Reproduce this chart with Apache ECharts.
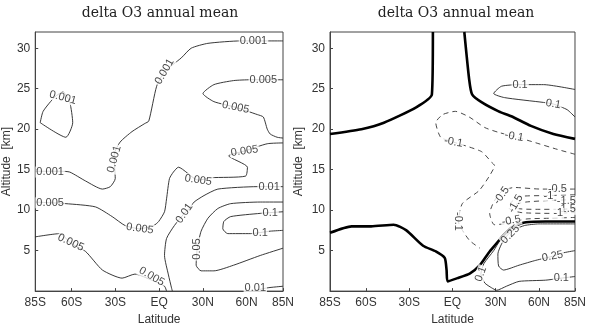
<!DOCTYPE html>
<html>
<head>
<meta charset="utf-8">
<script src="https://cdn.jsdelivr.net/npm/echarts@6/dist/echarts.min.js"></script>
<style>
  html, body { margin: 0; padding: 0; background: #fff; }
  #main { width: 589px; height: 331px; }
</style>
</head>
<body>
<div id="main"></div>
<script>
// ticks
const latTicks = [-85, -60, -30, 0, 30, 60, 85];
const latTickText = ['85S', '60S', '30S', 'EQ', '30N', '60N', '85N'];
const altTicks = [5, 10, 15, 20, 25, 30];

// left panel contours, points are [lat, altitude km]
const l001Main = [[85,30.9],[56,30.9],[33.5,30.6],[22,30.0],[15.2,28.8],[3.7,27.1],[-1.7,25.3],[-7.1,21.0],[-9.8,20.7],[-18.6,19.7],[-26.8,18.4],[-30.8,16.9],[-30.8,16.3],[-30.1,13.9],[-33.5,12.9],[-38.9,12.6],[-50.5,13.6],[-61.3,14.7],[-67.4,14.8],[-85,14.8]];
const l001Loop = [[-81.6,20.8],[-79.6,22.2],[-71.5,24.0],[-66.0,24.6],[-61.3,23.3],[-59.3,20.8],[-64.0,19.0],[-81.6,20.8]];
const l005Top = [[85,26.1],[62.6,26.1],[51.1,26.0],[37.6,25.5],[30.1,24.4],[37.6,23.4],[52.5,22.7],[67.4,21.8],[71.5,21.5],[74.2,20.0],[76.2,19.4],[81.0,19.0],[85,18.9]];
const l005Mid = [[-85,11.0],[-64,10.8],[-43.7,10.4],[-32.2,9.2],[-23.4,8.1],[-13.2,7.7],[-3.7,8.1],[-0.3,8.6],[3.7,9.8],[5.1,11.4],[7.1,13.9],[9.8,14.7],[13.2,15.3],[26.8,13.7],[35.6,14.0],[59.3,14.2],[60.6,15.3],[47.7,16.7],[58.6,17.3],[74.2,18.2],[85,18.3]];
const l005Low = [[-85,6.7],[-68.1,7.1],[-60.6,5.9],[-50.5,4.9],[-38.9,2.6],[-25.4,1.6],[-16.6,2.1],[-5.1,1.35],[3.7,0.6],[5.1,0]];
const l01 = [[85,12.9],[67.4,12.9],[40.3,12.6],[30.8,11.8],[24.0,11.0],[20.7,10.2],[17.3,9.6],[10.5,8.1],[5.1,6.5],[3.7,4.4],[6.4,2.0],[8.5,0.4],[9.1,0]];
const l05 = [[85,11.0],[69.4,11.0],[49.1,10.8],[40.3,10.2],[33.5,9.0],[28.8,7.4],[26.1,5.2],[25.4,3.2],[28.8,2.5],[37.6,2.5],[51.1,3.2],[69.4,4.4],[85,5.3]];
const l1 = [[85,9.8],[69.4,9.6],[49.1,9.2],[44.4,8.6],[43.7,7.7],[47.1,7.1],[62.6,7.1],[76.2,7.4],[85,7.5]];
const l01Low = [[64,0],[74.2,0.4],[85,0.6]];

// left panel contour labels: [lat, alt, text]
const leftLabels = [
  [64.7,30.9,'0.001'],[3.7,27.1,'0.001'],[-30.8,16.3,'0.001'],[-74.8,14.7,'0.001'],[-66,23.9,'0.001'],
  [71.5,26.1,'0.005'],[52.5,22.7,'0.005'],[58.6,17.3,'0.005'],[26.8,13.7,'0.005'],[-74.8,10.9,'0.005'],
  [-13.2,7.7,'0.005'],[-60.6,6.0,'0.005'],[-5.1,1.8,'0.005'],
  [75.5,12.9,'0.01'],[17.3,9.6,'0.01'],[26.1,5.2,'0.05'],[76.2,9.7,'0.1'],[69.4,7.2,'0.1'],[66,0.35,'0.01']
];

// right panel contours
const rZeroUpL = [[-85,19.4],[-63.2,20.0],[-47.6,20.8],[-25.2,22.7],[-14.3,24.3],[-13.6,32]];
const rZeroUpR = [[8.2,32],[11.6,26.1],[13.6,24.3],[20.4,23.3],[32.0,22.2],[40.8,21.6],[54.4,20.4],[70.0,19.4],[85,18.8]];
const rZeroLow = [[-85,7.2],[-70,8.0],[-56.4,8.0],[-40.8,8.2],[-32,7.5],[-20.4,5.6],[-11.6,4.9],[-5.4,4.1],[-4.1,2.6],[-3.4,1.2],[3.4,1.6],[12.2,2.2],[19,3.2],[25.8,4.9],[30.6,5.9],[35.4,6.9],[42.2,8.0],[51,8.5],[64.6,8.6],[85,8.6]];
const r01Top = [[85,24.9],[63.2,25.5],[46.9,25.5],[34,25.3],[28.6,24.4],[36,23.9],[63.2,23.3],[70,23.1],[79.6,22.4],[85,21.5]];
const rm01 = [[85,16.9],[72.8,17.5],[54.4,18.5],[42.8,19.1],[32,19.6],[22.4,20.2],[11.6,21.5],[2.0,22.2],[-6.8,21.8],[-11.6,20.8],[-8.2,19.0],[0.7,18.4],[11.6,17.8],[20.4,17.2],[27.2,15.9],[29.2,15.5],[25.2,14.1],[18.4,12.4],[6.8,10.8],[4.1,8.6],[11.6,6.3],[19.0,5.3]];
const rm05 = [[85,12.6],[61.2,12.6],[42.8,12.8],[34,12.3],[28.6,11.0],[25.8,9.6],[29,8.2],[40,8.4],[51,8.9],[68,9.0],[85,9.1]];
const rm1 = [[85,11.9],[66,11.8],[47.6,11.7],[40.8,11.0],[39.4,10.2],[47.6,9.7],[68,9.6],[85,9.7]];
const rm15 = [[85,11.3],[68,11.2],[51,11.0],[44.2,10.7],[45.6,10.2],[57.8,10.1],[74.8,10.1],[85,10.2]];
const r025 = [[85,8.3],[60,8.3],[50,8.1],[43,7.6],[38,6.9],[34,5.8],[31.5,4.6],[32,3.1],[35.4,2.6],[46.2,3.2],[57.8,3.8],[69.4,4.3],[76.2,4.7],[85,5.0]];
const r01 = [[35,6.7],[33,6.3],[28.6,5.0],[21.8,3.4],[19.7,2.1],[22.4,1.0],[27.2,0.4],[30.6,0.1],[37.4,0.6],[46.2,1.2],[64.6,1.35],[75.5,1.6],[85,1.8]];

const rightLabels = [
  [46.9,25.5,'0.1'],[70,23.1,'0.1'],[42.8,19.1,'-0.1'],[0.7,18.4,'-0.1'],[4.1,8.6,'-0.1'],
  [72.8,12.6,'-0.5'],[34,11.8,'-0.5'],[40.8,8.7,'-0.5'],[66.6,11.8,'-1'],[43.8,10.8,'-1.5'],
  [79,11.1,'-1.5'],[79,10.1,'-1.5'],[73.4,9.6,'-1'],[40.1,7.0,'0.25'],[69.4,4.3,'0.25'],
  [19.7,2.1,'0.1'],[75.5,1.6,'0.1']
];

// label rotations (degrees), same order as the label lists
const leftRot = [0,60,75,0,-15, 0,-12,8,-8,0, -8,-25,-30, 0,55,90,0,0,0];
const rightRot = [0,-10,-10,-10,-90, 0,55,10,0,60, 0,0,0,45,10, 70,0];

const thin = {color:'#222', width:0.9};
const thick = {color:'#000', width:2.6};
const dash = {color:'#333', width:0.9, type:[5,4]};

function line(data, g, style) {
  return {type:'line', xAxisIndex:g, yAxisIndex:g, data:data, symbol:'none', smooth:0.2,
          lineStyle:style, silent:true, z:2, clip:true};
}
function labels(list, rots, g) {
  return {
    type:'scatter', xAxisIndex:g, yAxisIndex:g, symbolSize:1, z:5, silent:true,
    itemStyle:{color:'rgba(0,0,0,0)'},
    data: list.map((d,i) => ({value:[d[0],d[1]], name:d[2], label:{rotate:rots[i]}})),
    label:{show:true, position:'inside', formatter:p => p.name, fontSize:11,
           fontFamily:'Liberation Sans', color:'#111', backgroundColor:'#fff', padding:[0,1]}
  };
}

let chart = echarts.init(document.getElementById('main'));

let xAxisBase = g => ({
  type:'value', gridIndex:g, min:-85, max:85,
  name:'Latitude', nameLocation:'middle', nameGap:22,
  nameTextStyle:{fontSize:12, fontFamily:'Liberation Sans', color:'#333'},
  axisLine:{show:true, onZero:false, lineStyle:{color:'#444'}},
  axisTick:{show:true, inside:true, length:3, customValues:latTicks, lineStyle:{color:'#444'}},
  axisLabel:{customValues:latTicks, margin:6, fontSize:12, fontFamily:'Liberation Sans', color:'#333',
             formatter:v => latTickText[latTicks.indexOf(v)]},
  splitLine:{show:false}
});
let yAxisBase = (g, gap) => ({
  type:'value', gridIndex:g, min:0, max:32,
  name:'Altitude  [km]', nameLocation:'middle', nameGap:gap,
  nameTextStyle:{fontSize:12, fontFamily:'Liberation Sans', color:'#333'},
  axisLine:{show:true, onZero:false, lineStyle:{color:'#444'}},
  axisTick:{show:true, inside:true, length:3, customValues:altTicks, lineStyle:{color:'#444'}},
  axisLabel:{customValues:altTicks, margin:5, fontSize:12, fontFamily:'Liberation Sans', color:'#333'},
  splitLine:{show:false}
});

let titleStyle = {fontFamily:'DejaVu Serif', fontSize:14, fontWeight:'normal', color:'#222'};

let option = {
  animation:false,
  backgroundColor:'#fff',
  title:[
    {text:'delta O3 annual mean', left:155, top:1, textAlign:'center', textStyle:titleStyle},
    {text:'delta O3 annual mean', left:451, top:1, textAlign:'center', textStyle:titleStyle}
  ],
  grid:[
    {left:32, top:32, width:251, height:261, show:true, borderColor:'#444', borderWidth:1, backgroundColor:'#fff'},
    {left:330, top:32, width:250, height:261, show:true, borderColor:'#444', borderWidth:1, backgroundColor:'#fff'}
  ],
  xAxis:[xAxisBase(0), xAxisBase(1)],
  yAxis:[yAxisBase(0, 22), yAxisBase(1, 25)],
  series:[
    line(l001Main,0,thin), line(l001Loop,0,thin), line(l005Top,0,thin), line(l005Mid,0,thin),
    line(l005Low,0,thin), line(l01,0,thin), line(l05,0,thin), line(l1,0,thin), line(l01Low,0,thin),
    labels(leftLabels, leftRot, 0),
    line(rZeroUpL,1,thick), line(rZeroUpR,1,thick), line(rZeroLow,1,thick),
    line(r01Top,1,thin), line(rm01,1,dash), line(rm05,1,dash), line(rm1,1,dash), line(rm15,1,dash),
    line(r025,1,thin), line(r01,1,thin),
    labels(rightLabels, rightRot, 1)
  ]
};
chart.setOption(option);
</script>
</body>
</html>
